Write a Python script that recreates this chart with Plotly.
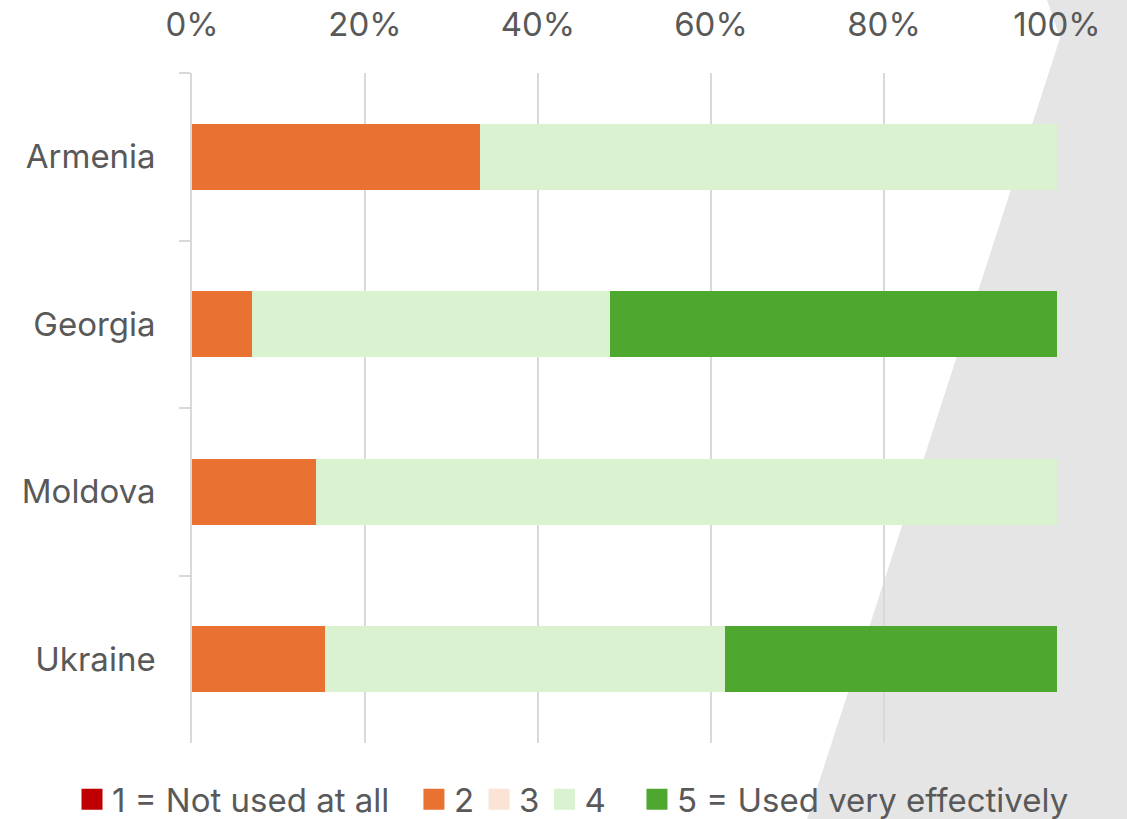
import plotly.graph_objects as go

countries = ["Armenia", "Georgia", "Moldova", "Ukraine"]
series_names = ["1 = Not used at all", "2", "3", "4", "5 = Used very effectively"]
s1 = [0, 0, 0, 0]
s2 = [33.3, 6.9, 14.3, 15.4]
s3 = [0, 0, 0, 0]
s4 = [66.7, 41.4, 85.7, 46.2]
s5 = [0, 51.7, 0, 38.4]
colors = ["#C00000", "#E97132", "#FBE3D6", "#DAF2D0", "#4EA72E"]
legend_groups = ["legend", "legend2", "legend2", "legend2", "legend3"]
tick_vals = [0, 20, 40, 60, 80, 100]
tick_text = ["0%", "20%", "40%", "60%", "80%", "100%"]

FONT = "Inter"
TXT = "#595959"

fig = go.Figure()
for name, vals, col, lg in zip(series_names, [s1, s2, s3, s4, s5], colors, legend_groups):
    fig.add_trace(go.Bar(y=countries, x=vals, name=name, orientation="h",
                         marker=dict(color=col, line=dict(width=0)),
                         showlegend=False))
    fig.add_trace(go.Scatter(x=[None], y=[None], mode="markers", name=name, legend=lg,
                             marker=dict(symbol="square", size=16, color=col,
                                         line=dict(color=col, width=5)),
                             showlegend=True))

fig.add_shape(type="path", xref="paper", yref="paper", layer="below",
              path="M 0.9884 1.1090 L 1.0035 1.0522 L 0.7110 -0.1134 L 1.0809 -0.1134 L 1.0809 1.1090 Z",
              fillcolor="#E5E5E5", line=dict(width=0))

leg_common = dict(orientation="h", xref="container", yref="container",
                  xanchor="left", y=0.024, yanchor="middle",
                  font=dict(size=33, color=TXT), bgcolor="rgba(0,0,0,0)",
                  traceorder="normal")

fig.update_layout(
    width=1127, height=819,
    margin=dict(l=192, r=70, t=73, b=76),
    barmode="stack", bargap=0.606,
    plot_bgcolor="rgba(0,0,0,0)", paper_bgcolor="white",
    font=dict(family=FONT, color=TXT, size=33),
    xaxis=dict(side="top", range=[0, 100], tickvals=tick_vals, ticktext=tick_text,
               showgrid=True, gridcolor="#D9D9D9", gridwidth=1.5, zeroline=False,
               showline=False, ticks="", ticklabelstandoff=29, automargin=False,
               tickfont=dict(size=33, color=TXT), fixedrange=True),
    yaxis=dict(autorange="reversed", showline=True, linecolor="#D9D9D9", linewidth=1.5,
               ticks="outside", tickson="boundaries", ticklen=11, tickcolor="#D9D9D9",
               tickwidth=1.5, ticklabelstandoff=28, automargin=False,
               tickfont=dict(size=33, color=TXT), showgrid=False),
    legend=dict(x=0.0639, **leg_common),
    legend2=dict(x=0.3673, **leg_common),
    legend3=dict(x=0.5652, **leg_common),
)

fig.write_html("out.html", config={"displayModeBar": False},
               post_script="document.body.style.margin='0';document.body.style.overflow='hidden';")
